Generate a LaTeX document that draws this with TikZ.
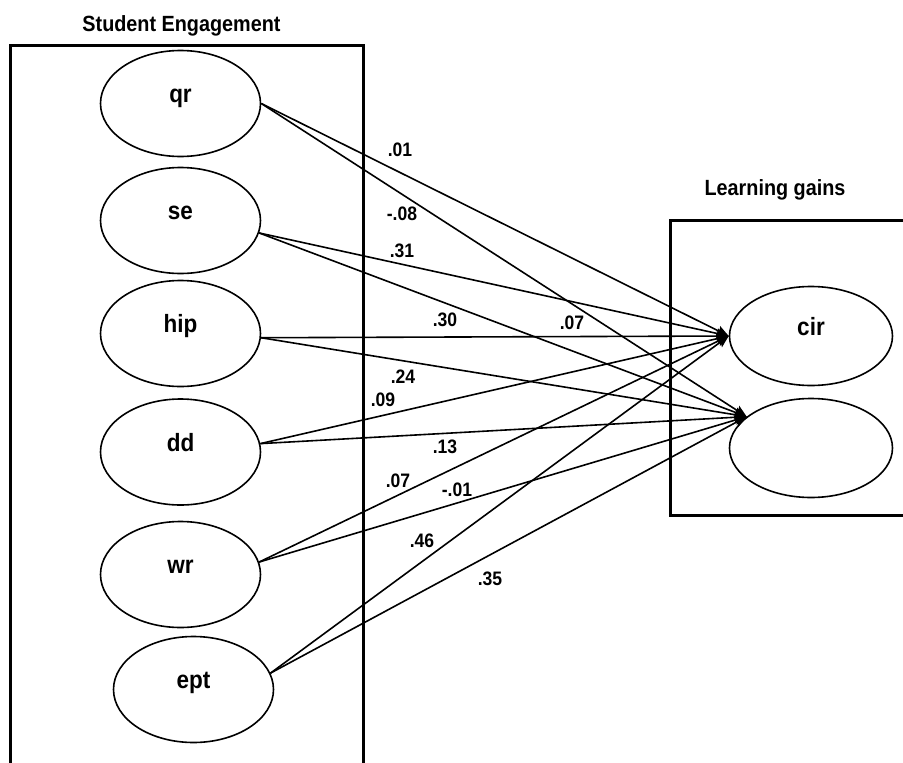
\documentclass[tikz,border=0pt]{standalone}
\usepackage{fontspec}
\setmainfont{Liberation Sans}[FakeStretch=0.9]
\usetikzlibrary{arrows.meta, shapes.geometric}
\tikzstyle{bignode}=[draw, ellipse, line width=1.6pt, minimum width=160pt, minimum height=106pt, inner sep=0pt, text height=4pt, text depth=6pt, font=\fontsize{25}{29}\selectfont\bfseries]
\tikzstyle{gainnode}=[bignode, minimum width=163pt, minimum height=99pt]
\tikzstyle{grouptitle}=[anchor=base, inner sep=0pt, font=\fontsize{22}{26}\selectfont\bfseries]
\tikzstyle{coef}=[inner sep=0pt, font=\fontsize{19.5}{23}\selectfont\bfseries]
\tikzstyle{effect}=[line width=1.6pt,-{Stealth[length=12pt,width=10pt,inset=2pt]}]
\tikzstyle{groupframe}=[line width=3pt]

\begin{document}
\begin{tikzpicture}[x=1pt,y=-1pt]
        \useasboundingbox (0,0) rectangle (903,763);
        % group titles
        \node (t1) [grouptitle] at (181.5,31.5) {Student Engagement};
        \node (t2) [grouptitle] at (775,195) {Learning gains};
        % group frames
        \draw [groupframe] (10,775) -- (10,45) -- (363,45) -- (363,775);
        \draw [groupframe] (915,220) -- (670,220) -- (670,515) -- (915,515);
        % engagement factors
        \node (n1) [bignode] at (180.5,103.5) {qr};
        \node (n2) [bignode] at (180.5,220.5) {se};
        \node (n3) [bignode] at (180.5,333.5) {hip};
        \node (n4) [bignode] at (180.5,452) {dd};
        \node (n5) [bignode] at (180.5,574.5) {wr};
        \node (n6) [bignode] at (193.5,689.5) {ept};
        % learning gains
        \node (g1) [gainnode] at (811,336) {cir};
        \node (g2) [gainnode] at (811,448) {};
        % paths to cir
        \draw [effect] (n1.east) -- (g1.west);
        \draw [effect] (n2.-9) -- (g1.west);
        \draw [effect] (n3.-3) -- (g1.west);
        \draw [effect] (n4.6) -- (g1.west);
        \draw [effect] (n5.9) -- (g1.west);
        \draw [effect] (n6.12) -- (g1.west);
        % paths to the second gain
        \draw [effect] (n1.east) -- (g2.154);
        \draw [effect] (n2.-9) -- (g2.154);
        \draw [effect] (n3.-3) -- (g2.154);
        \draw [effect] (n4.6) -- (g2.154);
        \draw [effect] (n5.9) -- (g2.154);
        \draw [effect] (n6.12) -- (g2.154);
        % path coefficients
        \node (c1) [coef] at (400,150) {.01};
        \node (c2) [coef] at (402,214) {-.08};
        \node (c3) [coef] at (402,251) {.31};
        \node (c4) [coef] at (445,320) {.30};
        \node (c5) [coef] at (572,323) {.07};
        \node (c6) [coef] at (403,377) {.24};
        \node (c7) [coef] at (383,400) {.09};
        \node (c8) [coef] at (445,447) {.13};
        \node (c9) [coef] at (398,481) {.07};
        \node (c10) [coef] at (457,490) {-.01};
        \node (c11) [coef] at (422,541) {.46};
        \node (c12) [coef] at (490,579) {.35};
\end{tikzpicture}
\end{document}
